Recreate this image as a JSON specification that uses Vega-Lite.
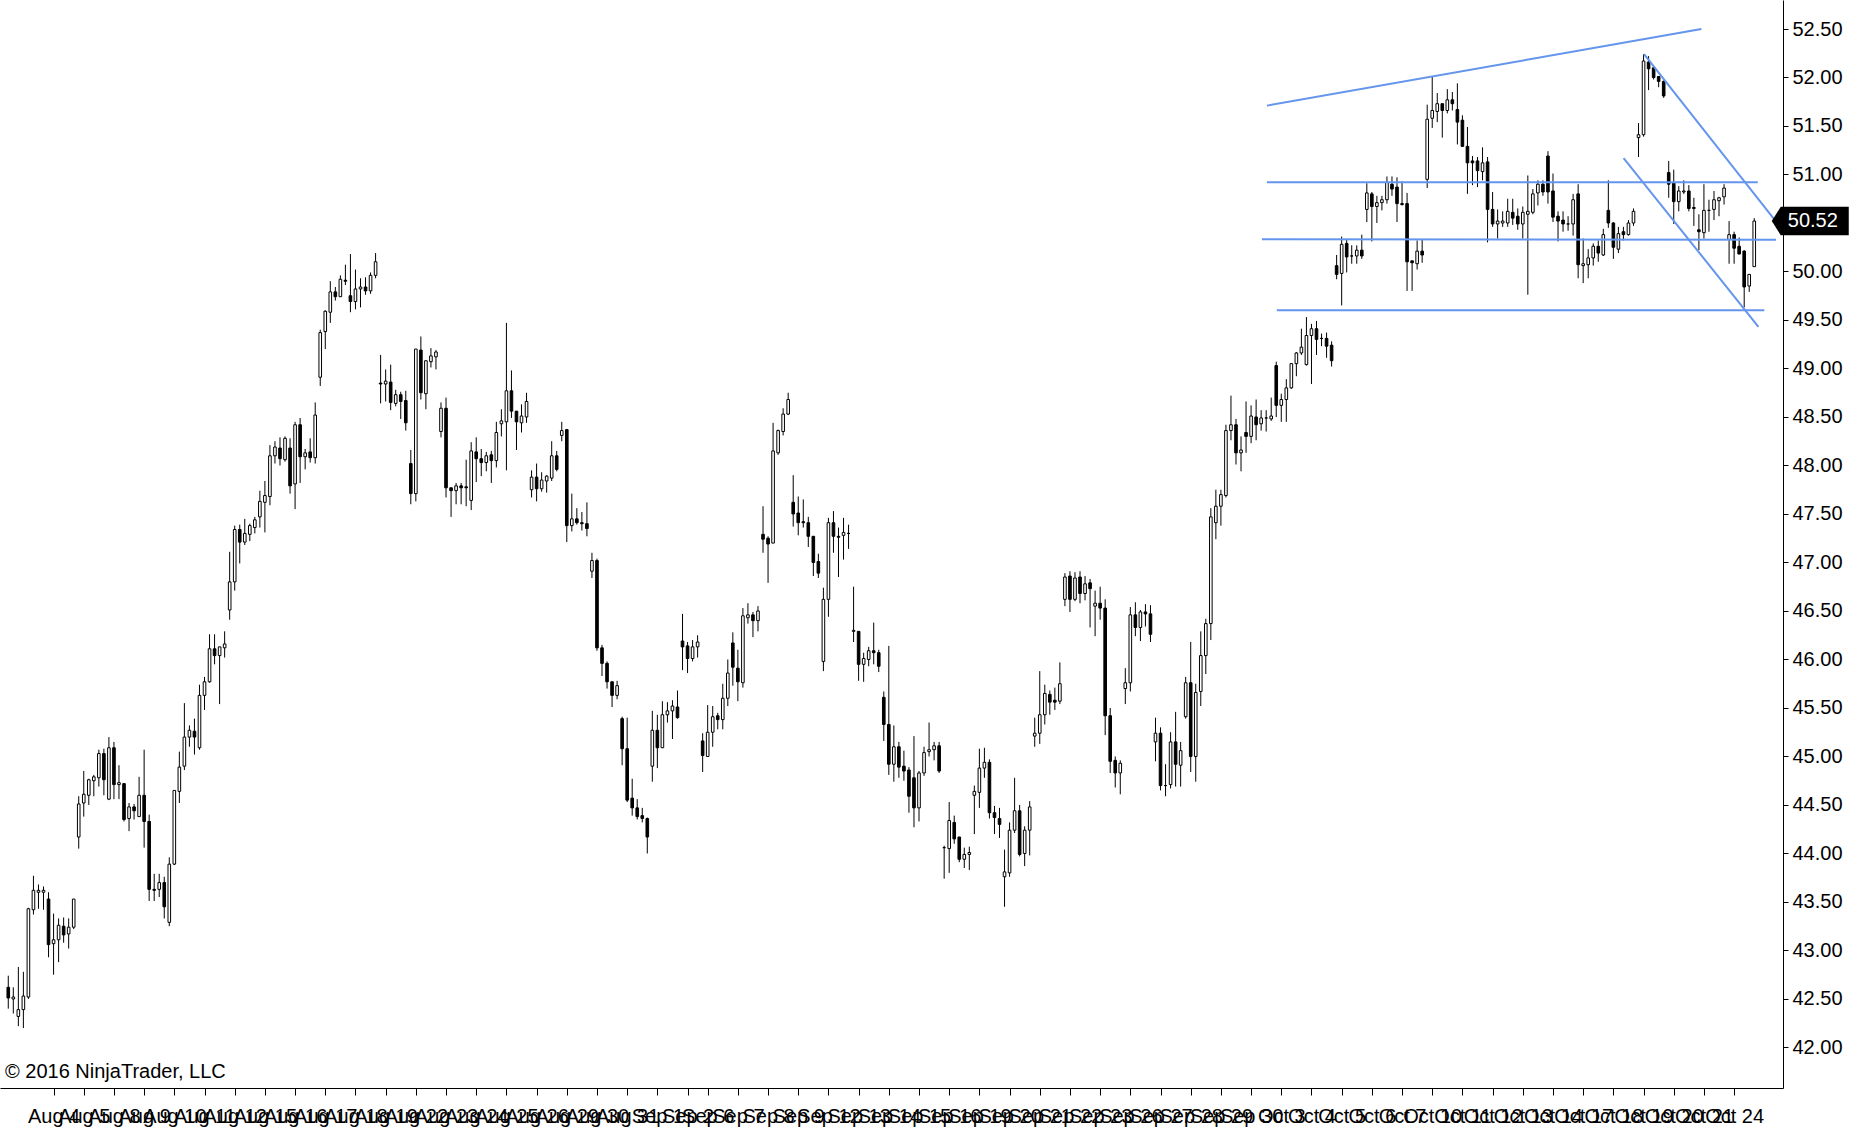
{
"$schema":"https://vega.github.io/schema/vega-lite/v6.json",
"width":1783,"height":1088,
"autosize":{"type":"none"},
"padding":{"left":0,"top":0,"right":70,"bottom":47},
"background":"white",
"config":{"view":{"stroke":null},"font":"Liberation Sans","axis":{"labelOverlap":false}},
"datasets":{
"candles":[
{"i":0,"o":42.62,"h":42.74,"l":42.40,"c":42.51},{"i":1,"o":42.50,"h":42.62,"l":42.35,"c":42.52},{"i":2,"o":42.32,"h":42.83,"l":42.22,"c":42.39},{"i":3,"o":42.39,"h":42.78,"l":42.20,"c":42.53},{"i":4,"o":42.52,"h":43.44,"l":42.50,"c":43.43},{"i":5,"o":43.42,"h":43.77,"l":43.37,"c":43.62},{"i":6,"o":43.60,"h":43.68,"l":43.43,"c":43.62},{"i":7,"o":43.60,"h":43.66,"l":43.42,"c":43.62},{"i":8,"o":43.53,"h":43.60,"l":42.93,"c":43.06},{"i":9,"o":43.07,"h":43.38,"l":42.75,"c":43.11},
{"i":10,"o":43.11,"h":43.33,"l":42.88,"c":43.26},{"i":11,"o":43.25,"h":43.34,"l":43.08,"c":43.16},{"i":12,"o":43.17,"h":43.33,"l":43.02,"c":43.24},{"i":13,"o":43.24,"h":43.53,"l":43.22,"c":43.53},{"i":14,"o":44.17,"h":44.59,"l":44.05,"c":44.51},{"i":15,"o":44.52,"h":44.85,"l":44.38,"c":44.61},{"i":16,"o":44.60,"h":44.77,"l":44.50,"c":44.76},{"i":17,"o":44.75,"h":44.81,"l":44.59,"c":44.79},{"i":18,"o":44.78,"h":45.07,"l":44.69,"c":45.03},{"i":19,"o":45.03,"h":45.08,"l":44.60,"c":44.76},
{"i":20,"o":44.56,"h":45.20,"l":44.55,"c":45.09},{"i":21,"o":45.09,"h":45.15,"l":44.56,"c":44.71},{"i":22,"o":44.71,"h":44.91,"l":44.56,"c":44.73},{"i":23,"o":44.72,"h":44.72,"l":44.33,"c":44.35},{"i":24,"o":44.36,"h":44.52,"l":44.23,"c":44.48},{"i":25,"o":44.48,"h":44.51,"l":44.35,"c":44.44},{"i":26,"o":44.38,"h":44.79,"l":44.38,"c":44.60},{"i":27,"o":44.60,"h":45.07,"l":44.06,"c":44.33},{"i":28,"o":44.33,"h":44.40,"l":43.51,"c":43.63},{"i":29,"o":43.63,"h":43.79,"l":43.51,"c":43.62},
{"i":30,"o":43.63,"h":43.79,"l":43.55,"c":43.70},{"i":31,"o":43.70,"h":43.76,"l":43.33,"c":43.45},{"i":32,"o":43.29,"h":43.96,"l":43.25,"c":43.89},{"i":33,"o":43.89,"h":44.65,"l":43.88,"c":44.65},{"i":34,"o":44.64,"h":45.05,"l":44.52,"c":44.89},{"i":35,"o":44.90,"h":45.55,"l":44.86,"c":45.20},{"i":36,"o":45.20,"h":45.32,"l":45.10,"c":45.27},{"i":37,"o":45.26,"h":45.39,"l":45.02,"c":45.20},{"i":38,"o":45.09,"h":45.74,"l":45.07,"c":45.63},{"i":39,"o":45.63,"h":45.82,"l":45.48,"c":45.77},
{"i":40,"o":45.77,"h":46.26,"l":45.76,"c":46.11},{"i":41,"o":46.11,"h":46.26,"l":45.95,"c":46.04},{"i":42,"o":46.04,"h":46.13,"l":45.54,"c":46.13},{"i":43,"o":46.12,"h":46.29,"l":46.02,"c":46.16},{"i":44,"o":46.51,"h":47.11,"l":46.41,"c":46.80},{"i":45,"o":46.80,"h":47.38,"l":46.71,"c":47.34},{"i":46,"o":47.34,"h":47.39,"l":46.99,"c":47.21},{"i":47,"o":47.21,"h":47.45,"l":47.18,"c":47.30},{"i":48,"o":47.29,"h":47.40,"l":47.22,"c":47.38},{"i":49,"o":47.36,"h":47.47,"l":47.30,"c":47.44},
{"i":50,"o":47.47,"h":47.74,"l":47.36,"c":47.63},{"i":51,"o":47.62,"h":47.84,"l":47.31,"c":47.69},{"i":52,"o":47.68,"h":48.21,"l":47.59,"c":48.10},{"i":53,"o":48.10,"h":48.25,"l":48.02,"c":48.19},{"i":54,"o":48.18,"h":48.29,"l":48.00,"c":48.07},{"i":55,"o":48.06,"h":48.30,"l":48.04,"c":48.28},{"i":56,"o":48.18,"h":48.28,"l":47.71,"c":47.79},{"i":57,"o":47.81,"h":48.45,"l":47.55,"c":48.42},{"i":58,"o":48.42,"h":48.49,"l":47.82,"c":48.09},{"i":59,"o":48.09,"h":48.17,"l":47.96,"c":48.13},
{"i":60,"o":48.14,"h":48.28,"l":48.03,"c":48.08},{"i":61,"o":48.08,"h":48.65,"l":48.02,"c":48.52},{"i":62,"o":48.91,"h":49.40,"l":48.82,"c":49.37},{"i":63,"o":49.38,"h":49.60,"l":49.20,"c":49.59},{"i":64,"o":49.58,"h":49.90,"l":49.47,"c":49.79},{"i":65,"o":49.79,"h":49.84,"l":49.70,"c":49.74},{"i":66,"o":49.74,"h":49.96,"l":49.74,"c":49.92},{"i":67,"o":49.91,"h":50.07,"l":49.86,"c":49.90},{"i":68,"o":49.75,"h":50.18,"l":49.58,"c":49.69},{"i":69,"o":49.69,"h":50.02,"l":49.61,"c":49.82},
{"i":70,"o":49.82,"h":49.93,"l":49.63,"c":49.84},{"i":71,"o":49.84,"h":49.94,"l":49.76,"c":49.80},{"i":72,"o":49.80,"h":49.99,"l":49.77,"c":49.96},{"i":73,"o":49.96,"h":50.19,"l":49.93,"c":50.10},{"i":74,"o":48.85,"h":49.14,"l":48.64,"c":48.84},{"i":75,"o":48.84,"h":48.99,"l":48.66,"c":48.87},{"i":76,"o":48.86,"h":49.04,"l":48.57,"c":48.65},{"i":77,"o":48.64,"h":48.78,"l":48.61,"c":48.73},{"i":78,"o":48.73,"h":48.76,"l":48.48,"c":48.66},{"i":79,"o":48.67,"h":48.77,"l":48.36,"c":48.44},
{"i":80,"o":48.02,"h":48.16,"l":47.60,"c":47.71},{"i":81,"o":47.71,"h":49.20,"l":47.63,"c":49.20},{"i":82,"o":49.19,"h":49.33,"l":48.68,"c":48.75},{"i":83,"o":48.74,"h":49.08,"l":48.58,"c":49.08},{"i":84,"o":49.07,"h":49.21,"l":49.01,"c":49.13},{"i":85,"o":49.12,"h":49.19,"l":48.99,"c":49.17},{"i":86,"o":48.35,"h":48.65,"l":48.29,"c":48.59},{"i":87,"o":48.59,"h":48.70,"l":47.67,"c":47.77},{"i":88,"o":47.77,"h":47.77,"l":47.47,"c":47.74},{"i":89,"o":47.74,"h":47.82,"l":47.60,"c":47.79},
{"i":90,"o":47.79,"h":47.82,"l":47.60,"c":47.77},{"i":91,"o":47.78,"h":48.06,"l":47.58,"c":47.77},{"i":92,"o":47.64,"h":48.24,"l":47.54,"c":48.15},{"i":93,"o":48.14,"h":48.29,"l":47.83,"c":48.07},{"i":94,"o":48.07,"h":48.17,"l":47.89,"c":48.03},{"i":95,"o":48.03,"h":48.14,"l":47.94,"c":48.10},{"i":96,"o":48.11,"h":48.15,"l":47.82,"c":48.05},{"i":97,"o":48.05,"h":48.45,"l":47.98,"c":48.34},{"i":98,"o":48.43,"h":48.58,"l":48.30,"c":48.46},{"i":99,"o":48.45,"h":49.47,"l":47.95,"c":48.77},
{"i":100,"o":48.77,"h":48.98,"l":48.49,"c":48.56},{"i":101,"o":48.56,"h":48.56,"l":48.16,"c":48.45},{"i":102,"o":48.44,"h":48.63,"l":48.34,"c":48.51},{"i":103,"o":48.50,"h":48.75,"l":48.44,"c":48.66},{"i":104,"o":47.75,"h":47.95,"l":47.67,"c":47.88},{"i":105,"o":47.88,"h":48.02,"l":47.63,"c":47.76},{"i":106,"o":47.76,"h":47.93,"l":47.73,"c":47.85},{"i":107,"o":47.84,"h":47.90,"l":47.72,"c":47.89},{"i":108,"o":47.87,"h":48.25,"l":47.84,"c":48.10},{"i":109,"o":48.10,"h":48.15,"l":47.94,"c":47.96},
{"i":110,"o":48.31,"h":48.45,"l":48.25,"c":48.36},{"i":111,"o":48.37,"h":48.37,"l":47.21,"c":47.38},{"i":112,"o":47.38,"h":47.71,"l":47.32,"c":47.45},{"i":113,"o":47.45,"h":47.56,"l":47.39,"c":47.41},{"i":114,"o":47.41,"h":47.52,"l":47.33,"c":47.40},{"i":115,"o":47.40,"h":47.62,"l":47.27,"c":47.35},{"i":116,"o":46.91,"h":47.10,"l":46.84,"c":47.02},{"i":117,"o":47.02,"h":47.04,"l":46.09,"c":46.12},{"i":118,"o":46.12,"h":46.15,"l":45.83,"c":45.96},{"i":119,"o":45.96,"h":45.98,"l":45.70,"c":45.77},
{"i":120,"o":45.77,"h":45.77,"l":45.51,"c":45.63},{"i":121,"o":45.63,"h":45.78,"l":45.59,"c":45.73},{"i":122,"o":45.39,"h":45.41,"l":44.91,"c":45.08},{"i":123,"o":45.08,"h":45.40,"l":44.53,"c":44.55},{"i":124,"o":44.57,"h":44.77,"l":44.39,"c":44.47},{"i":125,"o":44.47,"h":44.56,"l":44.35,"c":44.38},{"i":126,"o":44.39,"h":44.47,"l":44.32,"c":44.36},{"i":127,"o":44.36,"h":44.37,"l":44.00,"c":44.17},{"i":128,"o":44.90,"h":45.47,"l":44.74,"c":45.27},{"i":129,"o":45.27,"h":45.43,"l":44.88,"c":45.09},
{"i":130,"o":45.09,"h":45.57,"l":45.09,"c":45.43},{"i":131,"o":45.43,"h":45.56,"l":45.35,"c":45.47},{"i":132,"o":45.47,"h":45.58,"l":45.18,"c":45.52},{"i":133,"o":45.51,"h":45.68,"l":45.39,"c":45.40},{"i":134,"o":46.19,"h":46.47,"l":45.89,"c":46.13},{"i":135,"o":46.14,"h":46.18,"l":45.86,"c":46.01},{"i":136,"o":46.01,"h":46.20,"l":45.98,"c":46.13},{"i":137,"o":46.13,"h":46.25,"l":46.02,"c":46.18},{"i":138,"o":45.16,"h":45.24,"l":44.84,"c":45.01},{"i":139,"o":45.00,"h":45.53,"l":45.00,"c":45.25},
{"i":140,"o":45.25,"h":45.52,"l":45.10,"c":45.41},{"i":141,"o":45.42,"h":45.45,"l":45.28,"c":45.38},{"i":142,"o":45.38,"h":45.75,"l":45.28,"c":45.60},{"i":143,"o":45.60,"h":46.00,"l":45.52,"c":45.86},{"i":144,"o":46.17,"h":46.28,"l":45.73,"c":45.92},{"i":145,"o":45.91,"h":46.10,"l":45.57,"c":45.77},{"i":146,"o":45.76,"h":46.53,"l":45.71,"c":46.45},{"i":147,"o":46.43,"h":46.58,"l":46.37,"c":46.46},{"i":148,"o":46.46,"h":46.49,"l":46.23,"c":46.40},{"i":149,"o":46.40,"h":46.55,"l":46.29,"c":46.50},
{"i":150,"o":47.29,"h":47.58,"l":47.10,"c":47.24},{"i":151,"o":47.25,"h":47.27,"l":46.79,"c":47.19},{"i":152,"o":47.20,"h":48.44,"l":47.20,"c":48.15},{"i":153,"o":48.13,"h":48.37,"l":48.11,"c":48.36},{"i":154,"o":48.35,"h":48.59,"l":48.31,"c":48.53},{"i":155,"o":48.53,"h":48.75,"l":48.52,"c":48.68},{"i":156,"o":47.62,"h":47.90,"l":47.37,"c":47.50},{"i":157,"o":47.51,"h":47.68,"l":47.28,"c":47.41},{"i":158,"o":47.42,"h":47.65,"l":47.36,"c":47.41},{"i":159,"o":47.41,"h":47.47,"l":47.16,"c":47.27},
{"i":160,"o":47.27,"h":47.27,"l":46.86,"c":47.00},{"i":161,"o":47.01,"h":47.09,"l":46.84,"c":46.89},{"i":162,"o":45.98,"h":46.74,"l":45.88,"c":46.62},{"i":163,"o":46.62,"h":47.46,"l":46.44,"c":47.41},{"i":164,"o":47.41,"h":47.53,"l":47.10,"c":47.27},{"i":165,"o":47.27,"h":47.36,"l":46.85,"c":47.26},{"i":166,"o":47.28,"h":47.46,"l":47.03,"c":47.31},{"i":167,"o":47.30,"h":47.39,"l":47.14,"c":47.30},{"i":168,"o":46.29,"h":46.75,"l":46.18,"c":46.30},{"i":169,"o":46.29,"h":46.29,"l":45.78,"c":45.95},
{"i":170,"o":45.95,"h":46.07,"l":45.77,"c":46.01},{"i":171,"o":46.00,"h":46.13,"l":45.93,"c":46.09},{"i":172,"o":46.09,"h":46.38,"l":45.95,"c":46.07},{"i":173,"o":46.07,"h":46.10,"l":45.87,"c":45.93},{"i":174,"o":45.61,"h":45.67,"l":45.16,"c":45.33},{"i":175,"o":45.33,"h":46.14,"l":44.81,"c":44.92},{"i":176,"o":44.92,"h":45.32,"l":44.74,"c":45.10},{"i":177,"o":45.10,"h":45.15,"l":44.78,"c":44.89},{"i":178,"o":44.90,"h":45.06,"l":44.75,"c":44.85},{"i":179,"o":44.86,"h":44.89,"l":44.42,"c":44.59},
{"i":180,"o":44.78,"h":45.21,"l":44.27,"c":44.47},{"i":181,"o":44.47,"h":44.85,"l":44.33,"c":44.83},{"i":182,"o":44.83,"h":45.10,"l":44.80,"c":45.04},{"i":183,"o":45.05,"h":45.35,"l":45.00,"c":45.07},{"i":184,"o":45.07,"h":45.15,"l":44.96,"c":45.11},{"i":185,"o":45.11,"h":45.15,"l":44.83,"c":44.85},{"i":186,"o":44.06,"h":44.08,"l":43.74,"c":44.06},{"i":187,"o":44.05,"h":44.53,"l":43.80,"c":44.34},{"i":188,"o":44.32,"h":44.39,"l":44.10,"c":44.15},{"i":189,"o":44.17,"h":44.17,"l":43.91,"c":43.94},
{"i":190,"o":43.94,"h":44.06,"l":43.85,"c":43.99},{"i":191,"o":43.99,"h":44.07,"l":43.83,"c":44.01},{"i":192,"o":44.60,"h":44.70,"l":44.20,"c":44.64},{"i":193,"o":44.63,"h":45.08,"l":44.47,"c":44.88},{"i":194,"o":44.88,"h":45.09,"l":44.78,"c":44.94},{"i":195,"o":44.94,"h":44.97,"l":44.36,"c":44.42},{"i":196,"o":44.42,"h":44.49,"l":44.20,"c":44.37},{"i":197,"o":44.36,"h":44.47,"l":44.16,"c":44.30},{"i":198,"o":43.76,"h":44.04,"l":43.45,"c":43.81},{"i":199,"o":43.80,"h":44.32,"l":43.76,"c":44.24},
{"i":200,"o":44.24,"h":44.78,"l":44.21,"c":44.44},{"i":201,"o":44.44,"h":44.50,"l":43.97,"c":43.99},{"i":202,"o":44.00,"h":44.28,"l":43.87,"c":44.24},{"i":203,"o":44.24,"h":44.54,"l":43.98,"c":44.48},{"i":204,"o":45.21,"h":45.40,"l":45.10,"c":45.24},{"i":205,"o":45.24,"h":45.88,"l":45.13,"c":45.43},{"i":206,"o":45.43,"h":45.74,"l":45.33,"c":45.65},{"i":207,"o":45.64,"h":45.68,"l":45.43,"c":45.56},{"i":208,"o":45.58,"h":45.71,"l":45.48,"c":45.56},{"i":209,"o":45.57,"h":45.97,"l":45.54,"c":45.75},
{"i":210,"o":46.62,"h":46.89,"l":46.55,"c":46.85},{"i":211,"o":46.86,"h":46.91,"l":46.49,"c":46.62},{"i":212,"o":46.62,"h":46.90,"l":46.60,"c":46.84},{"i":213,"o":46.85,"h":46.91,"l":46.58,"c":46.68},{"i":214,"o":46.68,"h":46.86,"l":46.61,"c":46.78},{"i":215,"o":46.79,"h":46.83,"l":46.33,"c":46.73},{"i":216,"o":46.55,"h":46.71,"l":46.24,"c":46.58},{"i":217,"o":46.58,"h":46.75,"l":46.41,"c":46.53},{"i":218,"o":46.53,"h":46.62,"l":45.22,"c":45.42},{"i":219,"o":45.42,"h":45.50,"l":44.83,"c":44.95},
{"i":220,"o":44.96,"h":45.00,"l":44.68,"c":44.83},{"i":221,"o":44.83,"h":44.96,"l":44.61,"c":44.93},{"i":222,"o":45.70,"h":45.91,"l":45.54,"c":45.76},{"i":223,"o":45.76,"h":46.54,"l":45.67,"c":46.46},{"i":224,"o":46.46,"h":46.59,"l":46.24,"c":46.33},{"i":225,"o":46.33,"h":46.51,"l":46.19,"c":46.49},{"i":226,"o":46.49,"h":46.57,"l":46.34,"c":46.47},{"i":227,"o":46.47,"h":46.56,"l":46.18,"c":46.26},{"i":228,"o":45.15,"h":45.40,"l":44.95,"c":45.24},{"i":229,"o":45.24,"h":45.30,"l":44.65,"c":44.70},
{"i":230,"o":44.70,"h":44.92,"l":44.59,"c":44.70},{"i":231,"o":44.71,"h":45.25,"l":44.67,"c":45.15},{"i":232,"o":45.15,"h":45.46,"l":44.69,"c":44.92},{"i":233,"o":44.91,"h":45.15,"l":44.69,"c":45.06},{"i":234,"o":45.41,"h":45.82,"l":45.39,"c":45.76},{"i":235,"o":45.76,"h":46.18,"l":44.84,"c":45.00},{"i":236,"o":45.00,"h":45.75,"l":44.74,"c":45.66},{"i":237,"o":45.67,"h":46.29,"l":45.52,"c":46.04},{"i":238,"o":46.04,"h":46.42,"l":45.85,"c":46.37},{"i":239,"o":46.37,"h":47.56,"l":46.20,"c":47.47},
{"i":240,"o":47.41,"h":47.75,"l":47.24,"c":47.58},{"i":241,"o":47.58,"h":47.75,"l":47.38,"c":47.70},{"i":242,"o":47.69,"h":48.42,"l":47.67,"c":48.36},{"i":243,"o":48.36,"h":48.72,"l":48.26,"c":48.42},{"i":244,"o":48.42,"h":48.48,"l":48.01,"c":48.13},{"i":245,"o":48.13,"h":48.30,"l":47.94,"c":48.16},{"i":246,"o":48.34,"h":48.66,"l":48.13,"c":48.30},{"i":247,"o":48.30,"h":48.62,"l":48.23,"c":48.51},{"i":248,"o":48.50,"h":48.68,"l":48.26,"c":48.42},{"i":249,"o":48.43,"h":48.57,"l":48.36,"c":48.49},
{"i":250,"o":48.49,"h":48.57,"l":48.35,"c":48.49},{"i":251,"o":48.48,"h":48.70,"l":48.46,"c":48.51},{"i":252,"o":49.03,"h":49.07,"l":48.50,"c":48.62},{"i":253,"o":48.62,"h":48.74,"l":48.45,"c":48.68},{"i":254,"o":48.68,"h":48.89,"l":48.45,"c":48.80},{"i":255,"o":48.80,"h":49.05,"l":48.79,"c":49.05},{"i":256,"o":49.05,"h":49.17,"l":48.92,"c":49.16},{"i":257,"o":49.16,"h":49.41,"l":49.14,"c":49.22},{"i":258,"o":49.04,"h":49.53,"l":49.03,"c":49.34},{"i":259,"o":49.34,"h":49.46,"l":48.84,"c":49.41},
{"i":260,"o":49.41,"h":49.49,"l":49.14,"c":49.30},{"i":261,"o":49.31,"h":49.36,"l":49.23,"c":49.31},{"i":262,"o":49.31,"h":49.37,"l":49.11,"c":49.23},{"i":263,"o":49.24,"h":49.28,"l":49.02,"c":49.08},{"i":264,"o":50.06,"h":50.17,"l":49.92,"c":49.97},{"i":265,"o":49.98,"h":50.36,"l":49.65,"c":50.28},{"i":266,"o":50.29,"h":50.33,"l":49.99,"c":50.15},{"i":267,"o":50.16,"h":50.27,"l":50.08,"c":50.16},{"i":268,"o":50.16,"h":50.27,"l":50.08,"c":50.22},{"i":269,"o":50.22,"h":50.38,"l":50.13,"c":50.16},
{"i":270,"o":50.64,"h":50.91,"l":50.51,"c":50.81},{"i":271,"o":50.80,"h":50.82,"l":50.31,"c":50.67},{"i":272,"o":50.67,"h":50.78,"l":50.50,"c":50.71},{"i":273,"o":50.71,"h":50.78,"l":50.63,"c":50.74},{"i":274,"o":50.74,"h":50.98,"l":50.70,"c":50.92},{"i":275,"o":50.90,"h":50.98,"l":50.78,"c":50.85},{"i":276,"o":50.87,"h":50.97,"l":50.51,"c":50.70},{"i":277,"o":50.70,"h":50.93,"l":50.68,"c":50.69},{"i":278,"o":50.70,"h":50.81,"l":49.80,"c":50.10},{"i":279,"o":50.11,"h":50.11,"l":49.80,"c":50.09},
{"i":280,"o":50.08,"h":50.32,"l":50.02,"c":50.21},{"i":281,"o":50.21,"h":50.33,"l":50.09,"c":50.17},{"i":282,"o":50.95,"h":51.72,"l":50.86,"c":51.57},{"i":283,"o":51.58,"h":52.01,"l":51.48,"c":51.66},{"i":284,"o":51.65,"h":51.84,"l":51.54,"c":51.73},{"i":285,"o":51.73,"h":51.73,"l":51.38,"c":51.66},{"i":286,"o":51.66,"h":51.88,"l":51.63,"c":51.77},{"i":287,"o":51.77,"h":51.85,"l":51.66,"c":51.73},{"i":288,"o":51.67,"h":51.94,"l":51.31,"c":51.54},{"i":289,"o":51.56,"h":51.61,"l":51.29,"c":51.29},
{"i":290,"o":51.29,"h":51.49,"l":50.80,"c":51.12},{"i":291,"o":51.14,"h":51.19,"l":50.89,"c":51.12},{"i":292,"o":51.14,"h":51.18,"l":50.87,"c":51.04},{"i":293,"o":51.03,"h":51.28,"l":50.94,"c":51.12},{"i":294,"o":51.13,"h":51.18,"l":50.30,"c":50.64},{"i":295,"o":50.64,"h":50.82,"l":50.46,"c":50.49},{"i":296,"o":50.49,"h":50.64,"l":50.34,"c":50.52},{"i":297,"o":50.50,"h":50.62,"l":50.46,"c":50.52},{"i":298,"o":50.50,"h":50.75,"l":50.46,"c":50.62},{"i":299,"o":50.61,"h":50.75,"l":50.48,"c":50.55},
{"i":300,"o":50.57,"h":50.65,"l":50.43,"c":50.49},{"i":301,"o":50.49,"h":50.67,"l":50.34,"c":50.61},{"i":302,"o":50.59,"h":50.99,"l":49.76,"c":50.62},{"i":303,"o":50.61,"h":50.85,"l":50.59,"c":50.80},{"i":304,"o":50.81,"h":50.94,"l":50.68,"c":50.90},{"i":305,"o":50.90,"h":50.94,"l":50.78,"c":50.82},{"i":306,"o":51.19,"h":51.24,"l":50.70,"c":50.82},{"i":307,"o":50.83,"h":51.01,"l":50.51,"c":50.56},{"i":308,"o":50.57,"h":50.62,"l":50.31,"c":50.52},{"i":309,"o":50.53,"h":50.62,"l":50.41,"c":50.49},
{"i":310,"o":50.49,"h":50.57,"l":50.42,"c":50.49},{"i":311,"o":50.49,"h":50.80,"l":50.37,"c":50.74},{"i":312,"o":50.80,"h":50.90,"l":49.93,"c":50.07},{"i":313,"o":50.06,"h":50.34,"l":49.88,"c":50.08},{"i":314,"o":50.07,"h":50.23,"l":49.93,"c":50.14},{"i":315,"o":50.14,"h":50.29,"l":50.06,"c":50.26},{"i":316,"o":50.26,"h":50.32,"l":50.10,"c":50.19},{"i":317,"o":50.17,"h":50.44,"l":50.16,"c":50.38},{"i":318,"o":50.63,"h":50.94,"l":50.45,"c":50.50},{"i":319,"o":50.50,"h":50.51,"l":50.13,"c":50.25},
{"i":320,"o":50.23,"h":50.46,"l":50.19,"c":50.39},{"i":321,"o":50.41,"h":50.46,"l":50.32,"c":50.38},{"i":322,"o":50.38,"h":50.53,"l":50.37,"c":50.50},{"i":323,"o":50.50,"h":50.65,"l":50.47,"c":50.62},{"i":324,"o":51.38,"h":51.53,"l":51.18,"c":51.41},{"i":325,"o":51.41,"h":52.24,"l":51.39,"c":52.17},{"i":326,"o":52.16,"h":52.22,"l":51.87,"c":52.09},{"i":327,"o":52.10,"h":52.12,"l":51.98,"c":52.00},{"i":328,"o":52.01,"h":52.01,"l":51.90,"c":51.96},{"i":329,"o":51.96,"h":51.97,"l":51.79,"c":51.81},
{"i":330,"o":51.02,"h":51.14,"l":50.76,"c":50.90},{"i":331,"o":50.91,"h":51.05,"l":50.49,"c":50.72},{"i":332,"o":50.72,"h":50.88,"l":50.62,"c":50.83},{"i":333,"o":50.82,"h":50.94,"l":50.80,"c":50.83},{"i":334,"o":50.83,"h":50.89,"l":50.62,"c":50.65},{"i":335,"o":50.66,"h":50.76,"l":50.47,"c":50.65},{"i":336,"o":50.43,"h":50.59,"l":50.22,"c":50.41},{"i":337,"o":50.40,"h":50.90,"l":50.34,"c":50.63},{"i":338,"o":50.63,"h":50.74,"l":50.41,"c":50.63},{"i":339,"o":50.64,"h":50.83,"l":50.53,"c":50.74},
{"i":340,"o":50.73,"h":50.77,"l":50.57,"c":50.76},{"i":341,"o":50.77,"h":50.90,"l":50.69,"c":50.86},{"i":342,"o":50.33,"h":50.52,"l":50.08,"c":50.38},{"i":343,"o":50.38,"h":50.41,"l":50.08,"c":50.24},{"i":344,"o":50.26,"h":50.35,"l":50.18,"c":50.18},{"i":345,"o":50.21,"h":50.22,"l":49.63,"c":49.84},{"i":346,"o":49.85,"h":49.97,"l":49.79,"c":49.97},{"i":347,"o":50.05,"h":50.55,"l":50.05,"c":50.52}
],
"lines":[
{"x1":250.14,"y1":51.71,"x2":336.5,"y2":52.50},
{"x1":250.14,"y1":50.92,"x2":347.7,"y2":50.92},
{"x1":249.15,"y1":50.332,"x2":351.33,"y2":50.327},
{"x1":252.11,"y1":49.60,"x2":349.0,"y2":49.60},
{"x1":325.1,"y1":52.24,"x2":351.1,"y2":50.53},
{"x1":321.03,"y1":51.17,"x2":347.83,"y2":49.43}
],
"last":[{"i":350.48,"p":50.52,"label":"50.52"}],
"note":[{"i":-0.652,"p":41.686,"label":"© 2016 NinjaTrader, LLC"}]
},
"layer":[
{
"data":{"name":"candles"},
"mark":{"type":"rule","color":"black","strokeWidth":1},
"encoding":{
"x":{"field":"i","type":"quantitative","scale":{"domain":[-0.652,351.72],"nice":false,"zero":false},
"axis":{"title":null,"orient":"bottom","grid":false,"domainColor":"black","tickColor":"black","tickSize":7,"tickCount":500,"labelPadding":11,"labelFontSize":20,"labelFont":"Liberation Sans","labelColor":"black","labelOverlap":false,"labelSeparation":0,"labelBound":false,"labelFlush":false,"labelAlign":"center",
"values":[9,15,21,27,33,39,45,51,57,63,69,75,81,87,93,99,105,111,117,123,129,135,139,145,151,157,163,169,175,181,187,193,199,205,211,217,223,229,235,241,247,253,259,265,271,277,283,289,295,301,307,313,319,325,331,337,343],
"labelExpr":"['Aug 4','Aug 5','Aug 8','Aug 9','Aug 10','Aug 11','Aug 12','Aug 15','Aug 16','Aug 17','Aug 18','Aug 19','Aug 22','Aug 23','Aug 24','Aug 25','Aug 26','Aug 29','Aug 30','Aug 31','Sep 1','Sep 2','Sep 6','Sep 7','Sep 8','Sep 9','Sep 12','Sep 13','Sep 14','Sep 15','Sep 16','Sep 19','Sep 20','Sep 21','Sep 22','Sep 23','Sep 26','Sep 27','Sep 28','Sep 29','Sep 30','Oct 3','Oct 4','Oct 5','Oct 6','Oct 7','Oct 10','Oct 11','Oct 12','Oct 13','Oct 14','Oct 17','Oct 18','Oct 19','Oct 20','Oct 21','Oct 24'][indexof([9,15,21,27,33,39,45,51,57,63,69,75,81,87,93,99,105,111,117,123,129,135,139,145,151,157,163,169,175,181,187,193,199,205,211,217,223,229,235,241,247,253,259,265,271,277,283,289,295,301,307,313,319,325,331,337,343], datum.value)]"}},
"y":{"field":"l","type":"quantitative","scale":{"domain":[41.582,52.799],"nice":false,"zero":false},
"axis":{"title":null,"orient":"right","grid":false,"domainColor":"black","tickColor":"black","tickSize":5,"tickCount":100,"labelPadding":4,"labelFontSize":20,"labelFont":"Liberation Sans","labelColor":"black","format":".2f","labelOverlap":false,
"values":[42,42.5,43,43.5,44,44.5,45,45.5,46,46.5,47,47.5,48,48.5,49,49.5,50,51,51.5,52,52.5]}},
"y2":{"field":"h"}
}
},
{
"data":{"name":"candles"},
"mark":{"type":"bar","size":2.6,"stroke":"black","strokeWidth":1},
"encoding":{
"x":{"field":"i","type":"quantitative","scale":{"domain":[-0.652,351.72],"nice":false,"zero":false},"axis":{"title":null}},
"y":{"field":"o","type":"quantitative","scale":{"domain":[41.582,52.799],"nice":false,"zero":false},"axis":{"title":null}},
"y2":{"field":"c"},
"fill":{"condition":{"test":"datum.c >= datum.o","value":"white"},"value":"black"}
}
},
{
"data":{"name":"lines"},
"mark":{"type":"rule","color":"#6495ED","strokeWidth":2},
"encoding":{
"x":{"field":"x1","type":"quantitative","scale":{"domain":[-0.652,351.72],"nice":false,"zero":false},"axis":{"title":null}},
"y":{"field":"y1","type":"quantitative","scale":{"domain":[41.582,52.799],"nice":false,"zero":false},"axis":{"title":null}},
"x2":{"field":"x2"},
"y2":{"field":"y2"}
}
},
{
"data":{"name":"last"},
"mark":{"type":"point","shape":"M0,0 L0.9,-1.42 L7.7,-1.42 L7.7,1.42 L0.9,1.42 Z","size":400,"filled":true,"fill":"black","strokeWidth":0,"opacity":1},
"encoding":{
"x":{"field":"i","type":"quantitative","scale":{"domain":[-0.652,351.72],"nice":false,"zero":false},"axis":{"title":null}},
"y":{"field":"p","type":"quantitative","scale":{"domain":[41.582,52.799],"nice":false,"zero":false},"axis":{"title":null}}
}
},
{
"data":{"name":"last"},
"mark":{"type":"text","color":"white","fontSize":20,"font":"Liberation Sans","align":"left","baseline":"middle","dx":16},
"encoding":{
"x":{"field":"i","type":"quantitative","scale":{"domain":[-0.652,351.72],"nice":false,"zero":false},"axis":{"title":null}},
"y":{"field":"p","type":"quantitative","scale":{"domain":[41.582,52.799],"nice":false,"zero":false},"axis":{"title":null}},
"text":{"field":"label"}
}
},
{
"data":{"name":"note"},
"mark":{"type":"text","color":"black","fontSize":20,"font":"Liberation Sans","align":"left","baseline":"alphabetic"},
"encoding":{
"x":{"field":"i","type":"quantitative","scale":{"domain":[-0.652,351.72],"nice":false,"zero":false},"axis":{"title":null}},
"y":{"field":"p","type":"quantitative","scale":{"domain":[41.582,52.799],"nice":false,"zero":false},"axis":{"title":null}},
"text":{"field":"label"}
}
}
]
}
